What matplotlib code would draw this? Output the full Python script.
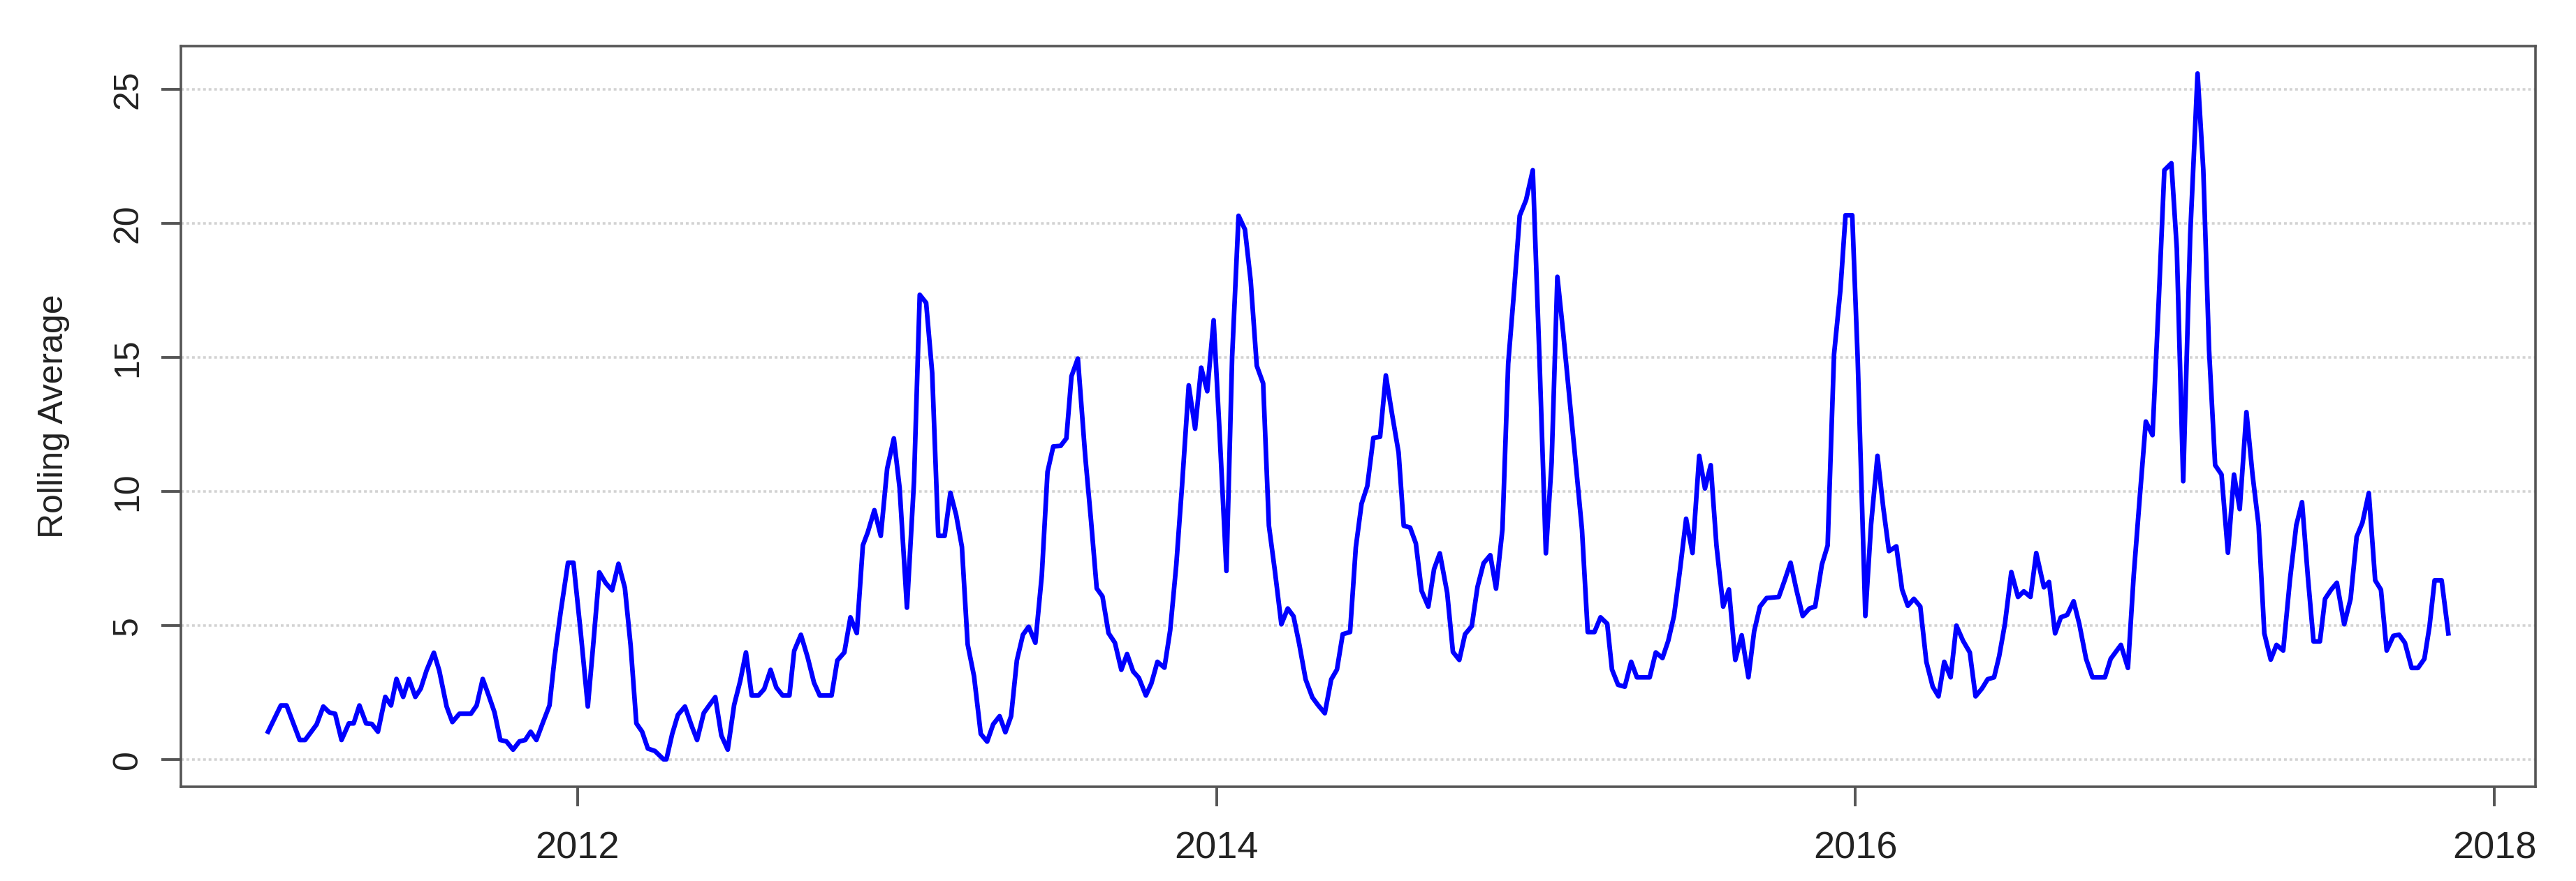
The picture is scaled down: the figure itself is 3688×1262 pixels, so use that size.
import matplotlib.pyplot as plt

# weekly rolling average (x = decimal year)
dates = [
    2011.031, 2011.071, 2011.089, 2011.130, 2011.147, 2011.183, 2011.204, 2011.223, 2011.241, 2011.261,
    2011.284, 2011.299, 2011.317, 2011.338, 2011.356, 2011.375, 2011.398, 2011.416, 2011.433, 2011.454,
    2011.472, 2011.492, 2011.509, 2011.527, 2011.550, 2011.567, 2011.590, 2011.608, 2011.630, 2011.666,
    2011.684, 2011.703, 2011.722, 2011.740, 2011.758, 2011.777, 2011.798, 2011.818, 2011.836, 2011.853,
    2011.871, 2011.892, 2011.912, 2011.929, 2011.947, 2011.970, 2011.987, 2012.010, 2012.032, 2012.050,
    2012.068, 2012.088, 2012.108, 2012.128, 2012.148, 2012.166, 2012.184, 2012.202, 2012.220, 2012.242,
    2012.269, 2012.278, 2012.296, 2012.314, 2012.336, 2012.357, 2012.374,
    2012.395, 2012.413, 2012.431, 2012.450, 2012.470, 2012.490, 2012.509, 2012.527, 2012.545, 2012.566,
    2012.584, 2012.604, 2012.622, 2012.642, 2012.663, 2012.678, 2012.699, 2012.720, 2012.740, 2012.758,
    2012.795, 2012.813, 2012.835, 2012.854, 2012.874, 2012.893, 2012.908, 2012.929, 2012.949, 2012.969,
    2012.990, 2013.008, 2013.031, 2013.053, 2013.071, 2013.091, 2013.110, 2013.129, 2013.149, 2013.167,
    2013.185, 2013.203, 2013.221, 2013.241, 2013.262, 2013.282, 2013.301, 2013.321, 2013.339, 2013.357,
    2013.375, 2013.394, 2013.412, 2013.433, 2013.453, 2013.471, 2013.489, 2013.512, 2013.530, 2013.546,
    2013.566, 2013.589, 2013.607, 2013.625, 2013.643, 2013.662, 2013.682, 2013.702, 2013.720, 2013.739,
    2013.757, 2013.779,
    2013.796, 2013.815, 2013.837, 2013.855, 2013.874, 2013.892, 2013.913, 2013.933, 2013.952, 2013.971,
    2013.991, 2014.010, 2014.031, 2014.049, 2014.069, 2014.089, 2014.107, 2014.126, 2014.146, 2014.164,
    2014.182, 2014.203, 2014.223, 2014.241, 2014.259, 2014.279, 2014.300, 2014.318, 2014.339, 2014.359,
    2014.377, 2014.395, 2014.418, 2014.436, 2014.454, 2014.472, 2014.491, 2014.512, 2014.530, 2014.550,
    2014.570, 2014.586, 2014.606, 2014.624, 2014.642, 2014.663, 2014.681, 2014.699, 2014.722, 2014.740,
    2014.760, 2014.778, 2014.799, 2014.817, 2014.836, 2014.857, 2014.875, 2014.895, 2014.913, 2014.931,
    2014.949, 2014.969, 2014.990, 2015.011, 2015.031, 2015.049, 2015.067, 2015.085, 2015.104, 2015.123,
    2015.144, 2015.162, 2015.183,
    2015.202, 2015.223, 2015.238, 2015.257, 2015.278, 2015.298, 2015.316, 2015.356, 2015.375, 2015.396,
    2015.414, 2015.432, 2015.450, 2015.470, 2015.490, 2015.511, 2015.529, 2015.547, 2015.565, 2015.586,
    2015.604, 2015.624, 2015.644, 2015.665, 2015.683, 2015.701, 2015.722, 2015.760, 2015.779, 2015.797,
    2015.815, 2015.835, 2015.856, 2015.874, 2015.895, 2015.913, 2015.933, 2015.953, 2015.969, 2015.990,
    2016.007, 2016.031, 2016.049, 2016.069, 2016.087, 2016.105, 2016.128, 2016.146, 2016.164, 2016.183,
    2016.203, 2016.222, 2016.242, 2016.260, 2016.278, 2016.298, 2016.316, 2016.337, 2016.358, 2016.376,
    2016.396, 2016.414, 2016.434, 2016.450, 2016.468, 2016.488, 2016.509, 2016.527, 2016.548, 2016.566,
    2016.590, 2016.606, 2016.625, 2016.643, 2016.663, 2016.683, 2016.701, 2016.722, 2016.742, 2016.781,
    2016.799, 2016.831, 2016.853, 2016.871, 2016.890, 2016.909, 2016.930, 2016.949, 2016.967, 2016.989,
    2017.006, 2017.026, 2017.048, 2017.071, 2017.089, 2017.107, 2017.126, 2017.146, 2017.166, 2017.185,
    2017.203, 2017.224, 2017.243, 2017.262, 2017.280, 2017.300, 2017.318, 2017.339, 2017.360, 2017.380,
    2017.398, 2017.416, 2017.434, 2017.454, 2017.470, 2017.489, 2017.507, 2017.530, 2017.550, 2017.569,
    2017.587, 2017.607, 2017.627, 2017.645, 2017.663, 2017.684, 2017.702, 2017.720, 2017.741, 2017.761,
    2017.781, 2017.797, 2017.813, 2017.835, 2017.856,
]
values = [
    1.03, 2.01, 2.01, 0.72, 0.72, 1.30, 1.97, 1.75, 1.70, 0.72,
    1.34, 1.34, 2.01, 1.34, 1.32, 1.03, 2.33, 2.01, 3.00, 2.33,
    3.00, 2.33, 2.64, 3.31, 3.98, 3.31, 1.97, 1.39, 1.70, 1.70,
    2.01, 3.00, 2.37, 1.75, 0.72, 0.67, 0.36, 0.67, 0.72, 1.03,
    0.72, 1.39, 2.01, 3.89, 5.50, 7.34, 7.34, 4.70, 1.97, 4.43,
    6.98, 6.58, 6.31, 7.30, 6.40, 4.25, 1.34, 1.03, 0.40, 0.31,
    0.00, 0.00, 0.94, 1.66, 1.97, 1.25, 0.72,
    1.73, 2.03, 2.32, 0.89, 0.36, 2.03, 2.92, 3.99, 2.38, 2.38,
    2.62, 3.34, 2.68, 2.38, 2.38, 4.05, 4.65, 3.81, 2.86, 2.38,
    2.38, 3.69, 3.99, 5.30, 4.71, 7.99, 8.46, 9.30, 8.34, 10.85,
    11.98, 10.13, 5.66, 10.37, 17.34, 17.04, 14.42, 8.34, 8.34, 9.95,
    9.12, 7.93, 4.29, 3.10, 0.95, 0.66, 1.31, 1.61, 1.01, 1.61,
    3.69, 4.65, 4.95, 4.35, 6.85, 10.73, 11.68, 11.70, 11.98, 14.30,
    14.96, 11.32, 8.94, 6.38, 6.08, 4.71, 4.35, 3.34, 3.93, 3.28,
    3.04, 2.38,
    2.83, 3.64, 3.42, 4.82, 7.25, 10.20, 13.96, 12.34, 14.62, 13.74,
    16.39, 12.11, 7.03, 15.06, 20.29, 19.78, 17.86, 14.69, 14.03, 8.72,
    7.10, 5.04, 5.63, 5.34, 4.30, 2.98, 2.31, 2.02, 1.72, 2.98,
    3.35, 4.67, 4.75, 7.91, 9.54, 10.20, 12.00, 12.04, 14.33, 12.85,
    11.45, 8.72, 8.65, 8.06, 6.29, 5.70, 7.10, 7.69, 6.22, 4.01,
    3.71, 4.67, 4.97, 6.44, 7.32, 7.62, 6.37, 8.58, 14.77, 17.42,
    20.29, 20.88, 21.99, 14.92, 7.69, 11.08, 18.01, 15.95, 13.59, 11.23,
    8.58, 4.75, 4.75,
    5.30, 5.06, 3.35, 2.78, 2.71, 3.64, 3.06, 3.06, 3.99, 3.78,
    4.42, 5.35, 6.99, 8.98, 7.70, 11.33, 10.11, 10.98, 7.98, 5.70,
    6.34, 3.71, 4.63, 3.06, 4.78, 5.70, 6.02, 6.06, 6.70, 7.34,
    6.34, 5.35, 5.63, 5.70, 7.27, 7.98, 15.11, 17.53, 20.31, 20.31,
    14.97, 5.35, 8.77, 11.33, 9.41, 7.77, 7.95, 6.34, 5.73, 5.99,
    5.70, 3.64, 2.71, 2.35, 3.64, 3.06, 4.99, 4.42, 3.99, 2.35,
    2.64, 2.99, 3.06, 3.85, 5.06, 6.99, 6.06, 6.27, 6.06, 7.70,
    6.42, 6.62, 4.70, 5.30, 5.39, 5.90, 5.04, 3.75, 3.06, 3.06,
    3.75, 4.27, 3.41, 6.85, 9.77, 12.61, 12.10, 17.00, 21.99, 22.25,
    19.07, 10.38, 19.58, 25.60, 21.99, 15.28, 10.98, 10.63, 7.71, 10.63,
    9.34, 12.96, 10.63, 8.74, 4.70, 3.72, 4.27, 4.06, 6.68, 8.74,
    9.60, 6.85, 4.40, 4.40, 5.99, 6.33, 6.59, 5.04, 5.99, 8.31,
    8.83, 9.94, 6.68, 6.33, 4.06, 4.61, 4.65, 4.35, 3.41, 3.41,
    3.75, 4.96, 6.68, 6.68, 4.70,
]

year_ticks = [2012, 2014, 2016, 2018]
value_ticks = [0, 5, 10, 15, 20, 25]

plt.rcParams["font.family"] = ["Liberation Sans", "DejaVu Sans"]

fig = plt.figure(figsize=(18.44, 6.31), dpi=200)
ax = fig.add_axes([0.0702, 0.107, 0.9141, 0.8407])

# dotted grey guide lines at the y ticks (behind the series)
for v in value_ticks:
    ax.axhline(v, color="#d3d3d3", lw=1.3, ls=(0, (1.1, 1.1)), zorder=0)

ax.plot(dates, values, color="#0000ff", lw=2.4, solid_joinstyle="round", zorder=2)
ax.margins(x=0.04, y=0.04)

ax.set_xticks(year_ticks)
ax.set_xticklabels([str(y) for y in year_ticks], fontsize=19.5, color="#222222")
ax.set_yticks(value_ticks)
ax.set_yticklabels([str(v) for v in value_ticks], fontsize=18, color="#222222",
                   rotation=90, va="center")
ax.tick_params(axis="both", direction="out", length=10, width=1.4, color="#555555")
ax.tick_params(axis="x", pad=13)
ax.tick_params(axis="y", pad=9)

ax.set_ylabel("Rolling Average", fontsize=18, color="#222222")
ax.yaxis.set_label_coords(-0.047, 0.5)

for s in ax.spines.values():
    s.set_color("#555555")
    s.set_linewidth(1.3)

fig.savefig("out.png", dpi=200)
